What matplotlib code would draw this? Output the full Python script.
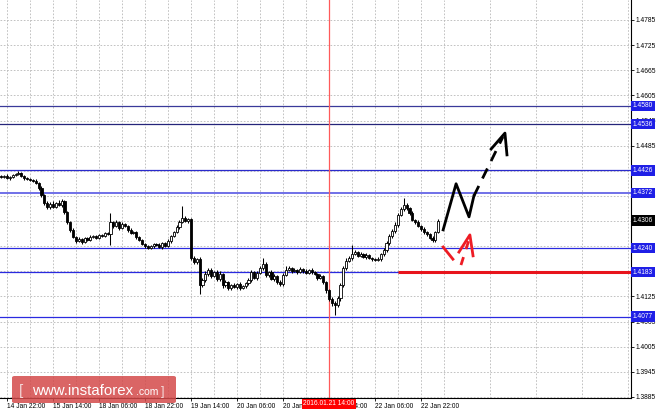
import numpy as np
import matplotlib.pyplot as plt
from matplotlib.patches import FancyBboxPatch

# EURUSD-like H1 candles, closes
closes = [
    1.4410, 1.4413, 1.4408, 1.4410, 1.4415, 1.4417, 1.4420, 1.4413, 1.4408, 1.4405,
    1.4403, 1.4401, 1.4396, 1.4384, 1.4367, 1.4348, 1.4339, 1.4346, 1.4339, 1.4348,
    1.4343, 1.4353, 1.4327, 1.4303, 1.4284, 1.4267, 1.4257, 1.4262, 1.4255, 1.4265,
    1.4260, 1.4267, 1.4269, 1.4265, 1.4272, 1.4269, 1.4276, 1.4274, 1.4303, 1.4293,
    1.4303, 1.4288, 1.4298, 1.4293, 1.4284, 1.4276, 1.4279, 1.4267, 1.4260, 1.4250,
    1.4245, 1.4241, 1.4245, 1.4250, 1.4248, 1.4243, 1.4253, 1.4245, 1.4257, 1.4269,
    1.4279, 1.4291, 1.4303, 1.4312, 1.4305, 1.4310, 1.4217, 1.4207, 1.4214, 1.4152,
    1.4164, 1.4179, 1.4188, 1.4174, 1.4183, 1.4167, 1.4179, 1.4152, 1.4160, 1.4145,
    1.4152, 1.4148, 1.4155, 1.4145, 1.4150, 1.4157, 1.4164, 1.4183, 1.4169, 1.4181,
    1.4193, 1.4203, 1.4176, 1.4183, 1.4167, 1.4174, 1.4160, 1.4155, 1.4176, 1.4188,
    1.4193, 1.4186, 1.4188, 1.4183, 1.4191, 1.4186, 1.4181, 1.4188, 1.4183, 1.4179,
    1.4169, 1.4174, 1.4160, 1.4140, 1.4119, 1.4109, 1.4105, 1.4121, 1.4152, 1.4193,
    1.4210, 1.4217, 1.4226, 1.4231, 1.4222, 1.4226, 1.4219, 1.4224, 1.4217, 1.4214,
    1.4212, 1.4214, 1.4226, 1.4236, 1.4253, 1.4269, 1.4281, 1.4296, 1.4320, 1.4334,
    1.4343, 1.4336, 1.4324, 1.4308, 1.4303, 1.4293, 1.4286, 1.4279, 1.4274, 1.4265,
    1.4260, 1.4279, 1.4305,
]
first_open = 1.4413
# wick lengths above / below the body, in pips
wick_up = [
    3, 2, 4, 3, 3, 2, 4, 3, 2, 3,
    3, 2, 4, 3, 4, 3, 5, 4, 6, 3,
    7, 4, 3, 3, 2, 4, 3, 4, 3, 2,
    3, 4, 2, 3, 3, 2, 4, 3, 21, 3,
    5, 3, 4, 3, 3, 4, 2, 3, 3, 2,
    3, 4, 2, 3, 3, 4, 2, 3, 4, 3,
    3, 4, 5, 29, 4, 3, 3, 4, 3, 5,
    4, 6, 4, 5, 3, 4, 6, 3, 4, 3,
    3, 4, 3, 5, 3, 3, 4, 5, 3, 4,
    5, 14, 4, 3, 4, 5, 3, 4, 6, 9,
    4, 3, 4, 3, 5, 3, 4, 3, 4, 3,
    3, 4, 3, 3, 2, 4, 5, 4, 6, 5,
    6, 5, 22, 4, 3, 4, 3, 4, 3, 3,
    3, 4, 3, 5, 4, 5, 4, 6, 5, 4,
    17, 4, 3, 5, 3, 4, 3, 4, 3, 3,
    4, 3, 4,
]
wick_dn = [
    3, 3, 2, 4, 3, 3, 2, 3, 4, 3,
    2, 3, 3, 4, 5, 4, 6, 5, 3, 4,
    3, 4, 5, 4, 5, 3, 4, 3, 4, 3,
    3, 2, 3, 4, 3, 3, 2, 3, 26, 4,
    3, 4, 3, 3, 4, 3, 3, 4, 3, 3,
    4, 3, 3, 4, 2, 3, 4, 3, 3, 4,
    3, 3, 4, 3, 3, 4, 5, 4, 5, 21,
    5, 4, 5, 4, 3, 5, 4, 6, 4, 5,
    4, 3, 5, 4, 3, 4, 5, 4, 3, 4,
    3, 4, 5, 4, 3, 4, 5, 6, 4, 3,
    3, 4, 3, 4, 3, 4, 3, 3, 4, 3,
    4, 3, 5, 6, 5, 7, 24, 6, 8, 5,
    4, 3, 4, 3, 4, 3, 3, 4, 3, 4,
    3, 3, 4, 5, 4, 5, 4, 5, 4, 3,
    4, 5, 4, 3, 4, 3, 4, 4, 5, 4,
    5, 4, 3,
]

price_ticks = [1.4785, 1.4725, 1.4665, 1.4605, 1.4545, 1.4485, 1.4425, 1.4365,
               1.4305, 1.4245, 1.4185, 1.4125, 1.4065, 1.4005, 1.3945, 1.3885]
# labels that sit completely behind a level box in the reference
hidden_ticks = [1.4425, 1.4305, 1.4245, 1.4185]
time_ticks = [2, 18, 34, 50, 66, 82, 98, 114, 130, 146]
time_labels = ['14 Jan 22:00', '15 Jan 14:00', '18 Jan 06:00', '18 Jan 22:00',
               '19 Jan 14:00', '20 Jan 06:00', '20 Jan 22:00', '21 Jan 14:00',
               '22 Jan 06:00', '22 Jan 22:00']

levels = [1.4580, 1.4536, 1.4426, 1.4372, 1.4240, 1.4183, 1.4077]
level_colors = ['#3a3a9a', '#25257a', '#2a2acc', '#7070e8', '#2a2ae0', '#2a2ae0', '#2a2ae0']
last_price = 1.4306
support_price = 1.4183
support_from = 138
cursor_bar = 114
cursor_text = '2016.01.21 14:00'

# hand-drawn forecast arrows (bar index, price)
black_path_x = [153.7, 158.2, 162.7, 164.4]
black_path_y = [1.4284, 1.4394, 1.4315, 1.4365]
black_dash_x = [164.4, 174.5]
black_dash_y = [1.4365, 1.4506]
black_head_x = [170.4, 175.2, 175.9]
black_head_y = [1.4477, 1.4515, 1.4463]
red_path_x = [153.7, 157.1]
red_path_y = [1.4243, 1.4214]
red_dash_x = [159.9, 163.0]
red_dash_y = [1.4200, 1.4267]
red_head_x = [159.2, 163.0, 164.1]
red_head_y = [1.4231, 1.4272, 1.4222]

plt.rcParams['font.family'] = ['Liberation Sans', 'DejaVu Sans']
fs = 4.8

fig = plt.figure(figsize=(6.64, 4.13), dpi=100)
ax = fig.add_axes([0, 15 / 413, 631 / 664, 398 / 413])

x = np.arange(len(closes))
c = np.array(closes)
o = np.array([first_open] + closes[:-1])
top = np.maximum(o, c)
bot = np.minimum(o, c)
hi = top + np.array(wick_up) * 1e-4
lo = bot - np.array(wick_dn) * 1e-4
up = c >= o
height = np.maximum(top - bot, 0.00008)

ax.vlines(x, lo, hi, color='black', lw=0.75, zorder=3)
ax.bar(x[up], height[up], bottom=bot[up], width=0.75, color='white',
       edgecolor='black', lw=0.6, zorder=4)
ax.bar(x[~up], height[~up], bottom=bot[~up], width=0.75, color='black',
       edgecolor='black', lw=0.6, zorder=4)

for lv, col in zip(levels, level_colors):
    ax.axhline(lv, color=col, lw=1.4 if lv == 1.4372 else 0.9, zorder=2)
    ax.text(1.003, lv, f'{lv:.4f}', transform=ax.get_yaxis_transform(),
            ha='left', va='center', fontsize=fs, color='white', zorder=8,
            clip_on=False, bbox=dict(boxstyle='square,pad=0.25', fc='#1f1fe6', ec='none'))
ax.text(1.003, last_price, f'{last_price:.4f}', transform=ax.get_yaxis_transform(),
        ha='left', va='center', fontsize=fs, color='white', zorder=8,
        clip_on=False, bbox=dict(boxstyle='square,pad=0.25', fc='black', ec='none'))

ax.axvline(cursor_bar, color='#ff5a5a', lw=0.9, zorder=2)
ax.hlines(support_price, support_from, 219.04, color='#e8141c', lw=2.2, zorder=5)

ax.plot(black_path_x, black_path_y, color='black', lw=2, zorder=6)
ax.plot(black_dash_x, black_dash_y, color='black', lw=2, ls=(0, (4, 3)), zorder=6)
ax.plot(black_head_x, black_head_y, color='black', lw=2, zorder=6)
ax.plot(red_path_x, red_path_y, color='#ee1c24', lw=2, zorder=6)
ax.plot(red_dash_x, red_dash_y, color='#ee1c24', lw=2, ls=(0, (3, 3)), zorder=6)
ax.plot(red_head_x, red_head_y, color='#ee1c24', lw=2, zorder=6)

ax.set_xlim(-0.43, 219.04)
ax.set_ylim(1.38826, 1.48327)

ax.set_yticks(price_ticks)
ax.set_yticklabels(['' if p in hidden_ticks else f'{p:.4f}' for p in price_ticks])
ax.yaxis.tick_right()
ax.set_xticks(time_ticks)
ax.set_xticklabels(time_labels, ha='left')
ax.set_xticks(np.arange(10, 219, 16), minor=True)
ax.tick_params(axis='both', which='major', length=2, width=0.6, labelsize=fs, pad=1.5)
ax.tick_params(axis='x', which='minor', length=0)
ax.grid(True, which='both', axis='x', color='#b8b8b8', ls=(0, (2, 2)), lw=0.6)
ax.grid(True, which='major', axis='y', color='#b8b8b8', ls=(0, (2, 2)), lw=0.6)
ax.set_axisbelow(True)

for s in ['left', 'top']:
    ax.spines[s].set_visible(False)
for s in ['right', 'bottom']:
    ax.spines[s].set_linewidth(0.8)

ax.text(cursor_bar, -0.006, cursor_text, transform=ax.get_xaxis_transform(),
        ha='center', va='top', fontsize=fs, color='white', zorder=9, clip_on=False,
        bbox=dict(boxstyle='square,pad=0.25', fc='#ff0000', ec='none'))

# watermark
wm = FancyBboxPatch((12 / 664, 10 / 413), 164 / 664, 27 / 413,
                    boxstyle='round,pad=0,rounding_size=0.004',
                    transform=fig.transFigure, fc='#d44a4a', ec='none', alpha=0.85, zorder=10)
fig.add_artist(wm)
base = 18 / 413
fig.text(19 / 664, base, '[', fontsize=11, color='#f4dada', va='baseline', zorder=11)
fig.text(32 / 664, base, 'www.instaforex', fontsize=10.8, color='white', va='baseline', zorder=11)
fig.text(136 / 664, base, '.com', fontsize=7.5, color='white', va='baseline', zorder=11)
fig.text(161 / 664, base, ']', fontsize=9, color='#f4dada', va='baseline', zorder=11)

fig.savefig('out.png', dpi=100)
